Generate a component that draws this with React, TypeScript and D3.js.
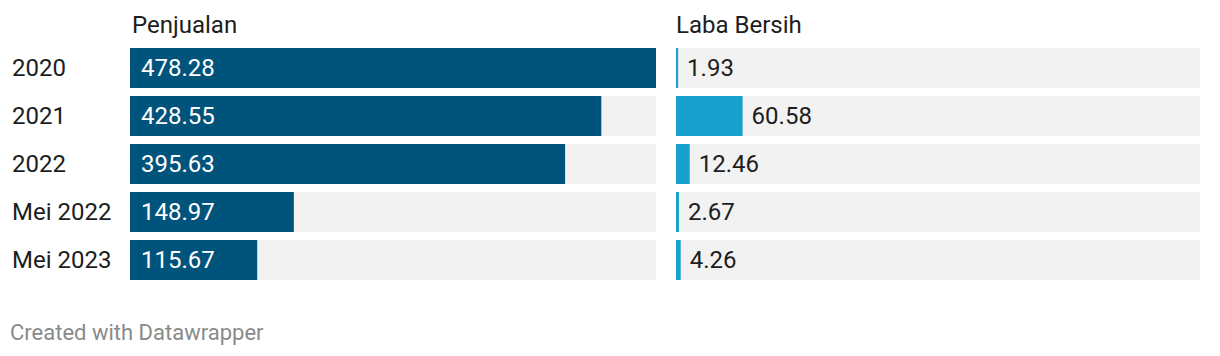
import React from "react";
import * as d3 from "d3";

const categories = ["2020", "2021", "2022", "Mei 2022", "Mei 2023"];
const penjualan = [478.28, 428.55, 395.63, 148.97, 115.67];
const labaBersih = [1.93, 60.58, 12.46, 2.67, 4.26];
const panelTitles = ["Penjualan", "Laba Bersih"];

const W = 1220;
const H = 356;
const FONT = "Roboto, 'Noto Sans', sans-serif";

export default function App() {
  const maxV = d3.max([...penjualan, ...labaBersih]) as number;
  const y = d3
    .scaleBand<string>()
    .domain(categories)
    .range([48, 280])
    .paddingInner(1 / 6)
    .paddingOuter(0);
  const bh = y.bandwidth();
  const panels = [
    { x0: 130, x1: 656, data: penjualan, color: "#00537a", inside: true },
    { x0: 676, x1: 1200, data: labaBersih, color: "#18a1cd", inside: false },
  ];
  const fmt = d3.format(".2f");
  return (
    <svg width={W} height={H} style={{ display: "block", position: "absolute", left: 0, top: 0 }} fontFamily={FONT}>
      <rect width={W} height={H} fill="#fff" />
      {categories.map((c) => (
        <text key={c} x={12} y={(y(c) as number) + bh / 2} dy="0.34em" fontSize={24} fill="#1d1d1d">
          {c}
        </text>
      ))}
      {panels.map((p, pi) => {
        const x = d3.scaleLinear().domain([0, maxV]).range([p.x0, p.x0 + (656 - 130)]);
        return (
          <g key={pi}>
            <text x={p.x0 + (pi === 0 ? 2 : 0)} y={32.5} fontSize={24} fill="#1d1d1d">
              {panelTitles[pi]}
            </text>
            {categories.map((c, i) => {
              const v = p.data[i];
              const yy = y(c) as number;
              const xe = Math.max(x(v), p.x0 + 2);
              return (
                <g key={c}>
                  <rect x={p.x0} y={yy} width={p.x1 - p.x0} height={bh} fill="#f2f2f2" />
                  <rect x={p.x0} y={yy} width={xe - p.x0} height={bh} fill={p.color} />
                  <text
                    x={p.inside ? p.x0 + 11 : xe + 9}
                    y={yy + bh / 2}
                    dy="0.34em"
                    fontSize={24}
                    fill={p.inside ? "#ffffff" : "#1d1d1d"}
                  >
                    {fmt(v)}
                  </text>
                </g>
              );
            })}
          </g>
        );
      })}
      <text x={10} y={340} fontSize={22} fill="#8a8a8a">
        Created with Datawrapper
      </text>
    </svg>
  );
}
